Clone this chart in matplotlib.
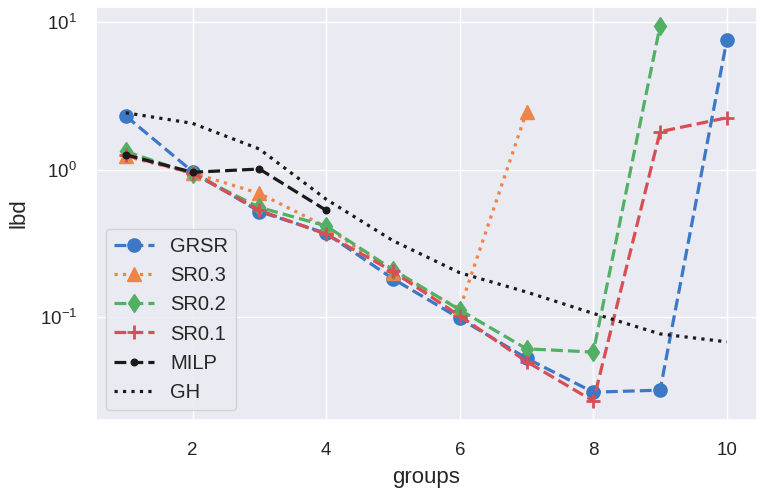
import matplotlib
matplotlib.use("Agg")
import matplotlib.pyplot as plt
import seaborn as sns

groups = [1, 2, 3, 4, 5, 6, 7, 8, 9, 10]
grsr = [2.31, 0.97, 0.52, 0.37, 0.182, 0.098, 0.0526, 0.031, 0.032, 7.6]
sr03 = [1.23, 0.95, 0.69, 0.41, 0.20, 0.114, 2.47]
sr02 = [1.33, 0.935, 0.555, 0.415, 0.21, 0.112, 0.061, 0.058, 9.47]
sr01 = [1.25, 0.95, 0.53, 0.365, 0.204, 0.102, 0.050, 0.027, 1.81, 2.25]
milp = [1.26, 0.96, 1.01, 0.53]
gh = [2.43, 2.06, 1.38, 0.63, 0.33, 0.20, 0.148, 0.106, 0.077, 0.068]

sns.set_theme(style="darkgrid", palette="muted")
plt.rcParams['font.family'] = ['Liberation Sans', 'DejaVu Sans']
plt.rcParams['mathtext.default'] = 'regular'

c_blue = '#3b78c6'
c_orange = '#ee8447'
c_green = '#52b064'
c_red = '#d64f55'

fig = plt.figure(figsize=(7.6, 4.91), dpi=100)
ax = fig.add_axes([0.126, 0.145, 0.87, 0.841])

lw = 2.3
ms = 9.5
ax.plot(groups[:len(grsr)], grsr, ls='--', marker='o', color=c_blue, lw=lw, ms=ms, label='GRSR')
ax.plot(groups[:len(sr03)], sr03, ls=':', marker='^', color=c_orange, lw=lw, ms=ms, label='SR0.3')
ax.plot(groups[:len(sr02)], sr02, ls='--', marker='d', color=c_green, lw=lw, ms=ms, label='SR0.2')
ax.plot(groups[:len(sr01)], sr01, ls='--', marker='+', color=c_red, lw=lw, ms=ms, mew=2, label='SR0.1')
ax.plot(groups[:len(milp)], milp, ls='--', marker='.', color='k', lw=lw, ms=ms, label='MILP')
ax.plot(groups[:len(gh)], gh, ls=':', color='k', lw=lw, label='GH')

ax.set_yscale('log')
ax.set_xticks([2, 4, 6, 8, 10])
ax.tick_params(axis='x', labelsize=13.5, pad=10)
ax.tick_params(axis='y', labelsize=13.5, pad=7.5)
ax.set_xlabel('groups', fontsize=16, labelpad=6)
ax.set_ylabel('lbd', fontsize=16, labelpad=7)
ax.legend(loc='lower left', fontsize=14.5)

fig.savefig('out.png', dpi=100)
